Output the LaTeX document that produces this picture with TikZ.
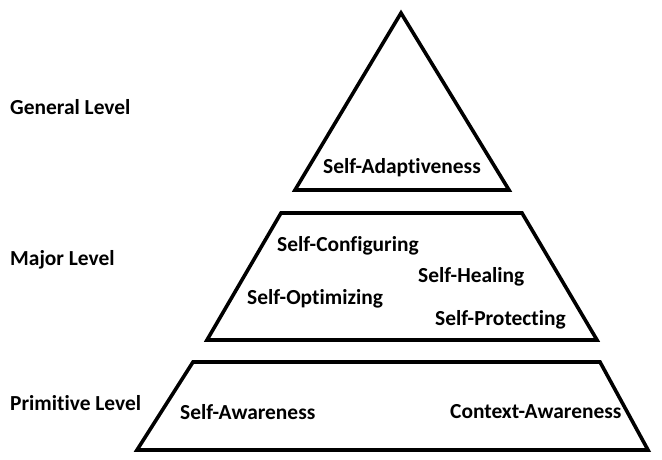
\documentclass[tikz,border=0pt]{standalone}
\usepackage{fontspec}
\setmainfont{Carlito}[Ligatures=NoCommon]
\begin{document}
\begin{tikzpicture}[x=1bp,y=-1bp,
    level/.style = {anchor=west, inner sep=0pt, font=\bfseries\fontsize{21.5}{25}\selectfont},
    part/.style = {anchor=west, inner sep=0pt, font=\bfseries\fontsize{21.5}{25}\selectfont},
    layer/.style = {draw, line width=3.6pt, line join=miter}]
                \useasboundingbox (0,0) rectangle (662,460);
                % pyramid layers
                \draw[layer] (401,13) -- (509,190) -- (295,190) -- cycle;
                \draw[layer] (281,213) -- (522,213) -- (597,340) -- (207,340) -- cycle;
                \draw[layer] (193,362) -- (600,362) -- (648,450) -- (137,450) -- cycle;
                % levels
                \node[level] (general) at (10,107) {General Level};
                \node[level] (major) at (10,260) {Major Level};
                \node[level] (primitive) at (10,403) {Primitive Level};
                % properties
                \node[part] (adapt) at (323,168) {Self-Adaptiveness};
                \node[part] (config) at (277,246) {Self-Configuring};
                \node[part] (heal) at (418,277) {Self-Healing};
                \node[part] (optim) at (247,299) {Self-Optimizing};
                \node[part] (protect) at (435,320) {Self-Protecting};
                \node[part] (selfaw) at (180,412) {Self-Awareness};
                \node[part] (contextaw) at (450,412) {Context-Awareness};
            \end{tikzpicture}
\end{document}
